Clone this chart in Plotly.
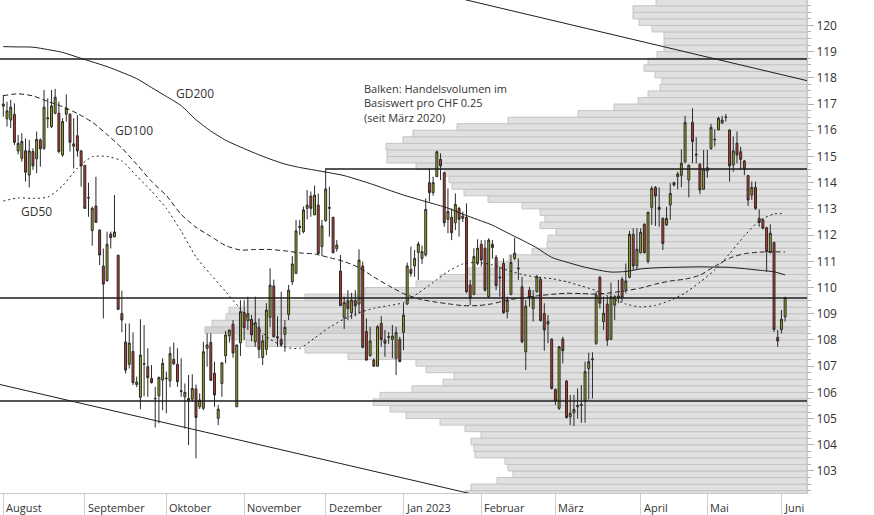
import pandas as pd
import plotly.graph_objects as go

# ---------------- data ----------------
holidays = ["2022-08-01", "2022-12-26", "2023-01-02", "2023-04-07",
            "2023-04-10", "2023-05-01", "2023-05-18", "2023-05-29"]
days = pd.bdate_range("2022-08-02", "2023-06-02")
days = days[~days.isin(pd.to_datetime(holidays))]

open_ = [116.92,116.44,116.39,116.61,115.21,114.93,115.22,114.29,115.19,114.91,
         115.63,115.31,116.44,116.14,116.65,116.65,115.06,116.61,116.61,115.39,
         115.79,115.21,114.66,113.43,112.17,113.11,112.19,110.82,110.26,112.04,
         111.93,111.23,109.01,107.92,107.07,107.56,106.30,105.81,107.10,106.98,
         106.53,105.77,105.87,106.47,106.52,106.44,107.26,107.07,106.06,105.83,
         105.67,105.74,106.13,105.45,105.39,107.68,107.90,106.73,105.01,106.34,
         107.40,108.16,108.60,105.45,107.89,109.05,108.73,108.78,107.93,108.47,
         107.33,107.64,108.86,110.06,108.12,108.02,108.21,108.97,110.22,110.54,
         112.29,112.13,113.02,113.49,112.77,113.15,111.56,112.55,113.02,112.68,
         111.48,110.63,108.85,109.50,109.04,109.50,109.37,110.82,108.32,107.40,
         107.23,107.00,108.63,108.00,108.10,108.02,107.30,108.02,108.29,109.37,
         110.69,110.82,111.34,111.11,111.24,114.00,113.62,114.23,114.89,114.38,
         112.60,112.68,112.47,113.02,112.64,112.68,110.10,109.74,110.92,111.65,
         111.50,109.65,111.65,111.15,110.40,110.92,109.08,109.74,111.11,110.74,
         110.03,107.55,109.90,109.20,109.84,110.31,109.01,108.60,108.03,106.11,
         105.39,108.03,106.43,105.07,105.22,105.45,105.50,105.67,106.91,107.28,
         107.87,110.39,108.70,109.37,108.02,109.33,109.68,110.31,109.93,110.39,
         112.03,110.83,111.33,112.41,110.99,113.06,113.82,113.06,112.64,112.39,
         113.15,113.91,114.23,114.28,114.80,114.10,116.30,115.05,114.70,113.75,
         114.45,115.31,115.63,116.01,116.27,116.49,116.01,114.68,115.50,115.18,
         114.83,114.27,113.53,113.82,112.64,112.58,112.28,111.34,111.72,108.10,
         108.40,108.88]
high = [117.35,117.09,117.16,117.03,115.82,115.89,115.69,115.63,115.31,115.95,
        115.69,117.54,117.22,117.54,117.58,117.09,116.46,117.37,116.65,116.46,
        116.58,115.25,114.68,114.00,113.09,114.23,112.22,111.49,112.13,112.13,
        113.53,111.25,109.88,108.63,108.63,108.29,106.60,108.79,108.57,107.68,
        107.04,106.21,106.60,107.30,106.79,107.74,107.90,107.68,107.30,106.34,
        106.66,106.69,106.30,105.96,107.93,108.25,108.25,107.17,105.52,107.13,
        108.34,108.38,108.76,107.81,109.52,109.52,109.65,108.95,109.65,108.82,
        108.19,109.40,110.73,110.30,108.90,109.84,108.76,110.10,111.20,112.58,
        112.58,113.09,113.72,113.66,113.89,113.59,112.58,114.55,113.85,112.70,
        111.81,111.24,109.65,109.90,109.80,109.90,111.46,110.99,108.82,108.50,
        107.30,108.57,108.91,108.38,108.30,108.57,108.50,108.12,109.40,110.95,
        111.56,111.43,111.75,111.60,113.40,114.55,114.23,115.22,115.12,114.42,
        113.78,113.02,113.59,113.08,112.90,113.21,110.29,111.50,111.84,111.81,
        111.81,111.88,111.81,111.24,110.80,111.11,109.65,111.24,111.91,111.11,
        110.41,109.52,110.03,109.90,110.48,110.41,109.40,108.95,108.06,106.15,
        107.77,108.12,106.47,105.90,105.90,106.15,106.28,107.17,107.51,107.53,
        109.84,110.44,109.65,109.65,110.18,109.71,110.29,110.41,110.92,112.16,
        112.26,112.26,112.26,112.45,112.89,113.87,113.87,113.82,112.67,113.08,
        113.98,114.04,114.42,115.27,116.55,114.67,116.84,115.73,114.74,115.25,
        115.25,116.24,116.04,116.52,116.55,116.62,116.04,115.76,115.95,115.37,
        114.87,114.30,114.04,114.04,112.98,112.64,112.32,112.41,111.75,108.38,
        109.14,109.65]
low = [116.52,116.14,116.08,115.44,115.08,114.80,114.04,113.82,114.49,114.36,
       114.61,115.25,116.08,116.08,116.61,115.12,114.99,116.33,115.19,114.55,
       114.99,113.85,113.00,112.70,111.60,112.46,110.86,108.82,110.22,111.49,
       111.93,109.14,108.29,106.72,106.91,106.28,106.20,105.36,105.85,105.83,
       106.34,104.66,104.82,105.32,105.20,106.19,107.04,106.21,105.83,104.62,
       103.99,105.64,103.48,105.36,105.32,106.98,106.43,105.45,104.75,105.83,
       107.11,107.90,107.32,105.45,107.39,108.00,108.38,107.95,107.74,107.30,
       107.04,107.42,108.50,108.10,107.74,107.74,107.55,108.76,110.10,110.54,
       112.00,112.07,112.60,112.70,112.77,111.28,111.20,112.51,111.94,111.30,
       111.37,109.30,108.42,108.76,108.80,108.90,109.00,107.68,107.21,107.36,
       106.98,106.98,107.74,107.36,107.85,107.30,106.66,107.17,107.61,109.33,
       110.41,110.41,110.29,110.90,111.18,113.28,113.50,114.23,114.10,112.32,
       112.07,111.81,112.19,111.94,112.50,109.78,109.33,109.70,110.85,110.80,
       109.84,109.59,111.10,109.90,109.65,109.00,108.82,109.70,111.05,110.29,
       107.87,106.85,109.27,108.70,109.80,108.70,107.59,107.87,106.11,105.52,
       105.33,107.11,105.00,104.75,104.71,105.00,104.84,104.84,105.73,105.77,
       107.81,109.20,108.38,107.77,108.00,108.76,109.40,109.46,109.78,110.35,
       110.67,110.67,111.30,111.30,110.92,112.39,112.35,112.32,111.43,112.35,
       112.58,113.85,113.75,113.82,114.74,113.44,114.74,114.74,113.56,113.72,
       114.19,115.25,115.38,116.01,116.27,116.33,114.04,114.42,114.74,114.48,
       114.29,113.11,113.34,112.96,112.32,112.22,110.60,111.30,108.31,107.74,
       108.25,108.70]
close = [117.00,116.74,116.88,115.54,115.50,115.57,114.40,115.21,114.64,115.65,
         115.29,116.88,116.47,116.93,117.26,115.19,116.33,116.84,115.54,115.48,
         115.21,114.64,113.02,113.42,113.02,112.49,111.24,110.13,111.65,111.90,
         112.12,109.17,108.76,106.85,107.88,106.37,106.39,107.42,107.08,106.56,
         106.37,105.76,106.57,107.11,106.54,107.48,107.09,106.41,106.04,106.00,
         105.77,106.15,105.04,105.71,107.55,107.81,106.46,105.90,105.36,107.13,
         108.19,108.38,107.50,107.81,109.08,108.47,109.00,108.19,108.66,107.64,
         107.96,109.14,110.09,108.12,108.08,107.83,108.48,109.90,110.90,112.16,
         112.33,112.96,113.14,113.02,113.53,111.30,112.35,113.76,113.05,111.33,
         111.62,109.31,109.43,109.20,109.52,109.30,111.05,107.72,107.23,107.96,
         107.00,108.50,108.02,107.87,108.12,108.15,108.28,107.17,108.95,110.82,
         110.54,111.11,111.66,111.37,112.98,113.62,114.00,115.18,114.64,112.47,
         112.90,112.09,113.17,112.60,112.73,109.84,109.59,111.18,111.50,111.05,
         109.90,111.81,111.53,110.07,110.37,109.04,109.52,110.96,111.31,110.72,
         107.93,109.29,109.62,109.65,110.41,108.74,108.38,108.70,106.15,105.67,
         107.74,107.59,105.04,105.20,105.35,105.50,105.53,106.79,107.17,107.25,
         109.71,109.40,109.02,107.99,109.65,109.65,109.60,109.61,110.25,112.03,
         110.82,111.46,112.11,111.33,112.87,113.78,113.49,112.98,111.68,112.64,
         113.59,114.00,114.33,114.74,116.30,114.67,115.57,115.08,113.72,114.52,
         114.57,116.11,115.65,116.46,116.39,116.50,114.64,115.21,115.06,114.89,
         114.51,113.34,113.82,113.02,112.48,112.26,111.37,112.07,108.40,107.96,
         108.79,109.61]

# moving averages, one value every 4th trading day (+ last day)
ma_step = 4
gd200 = [119.19,119.18,119.17,119.08,118.97,118.79,118.61,118.43,118.21,117.97,
         117.63,117.29,116.94,116.40,115.97,115.62,115.36,115.12,114.90,114.71,
         114.58,114.48,114.38,114.27,114.10,113.92,113.72,113.53,113.36,113.20,
         113.03,112.80,112.59,112.38,112.09,111.81,111.51,111.15,110.97,110.81,
         110.68,110.59,110.61,110.71,110.75,110.77,110.78,110.79,110.78,110.77,
         110.72,110.66,110.60,110.48]
gd100 = [117.32,117.39,117.31,117.10,116.90,116.64,116.31,115.84,115.32,114.70,
         114.05,113.51,112.79,112.30,111.95,111.60,111.43,111.45,111.45,111.40,
         111.32,111.28,111.14,110.99,110.76,110.40,110.07,109.77,109.57,109.46,
         109.38,109.31,109.31,109.38,109.52,109.61,109.68,109.74,109.78,109.77,
         109.75,109.80,109.88,109.98,110.13,110.25,110.32,110.47,110.81,111.12,
         111.29,111.35,111.36,111.36]
gd50 = [113.30,113.42,113.40,113.45,113.88,114.56,114.99,115.00,114.83,114.25,
        113.68,113.02,112.15,111.17,110.49,109.85,109.18,108.53,108.03,107.73,
        107.68,108.07,108.48,108.80,109.04,109.21,109.31,109.42,109.79,110.19,
        110.61,110.90,110.96,110.86,110.66,110.50,110.39,110.34,110.22,110.06,
        109.88,109.61,109.37,109.26,109.32,109.51,109.79,110.20,110.67,111.29,
        111.97,112.54,112.81,112.81]

# volume profile (relative volume per CHF 0.25 bin, from 102.00 upwards)
bin_size = 0.25
bin_start = 102.0
volume = [342,336,310,294,299,302,332,333,336,326,342,367,401,417,434,427,395,364,353,381,
          391,459,502,561,577,602,595,581,578,560,502,442,391,367,339,309,298,275,260,259,
          251,267,262,267,285,319,343,355,358,362,391,420,420,421,404,394,350,299,229,193,
          169,159,147,145,152,163,159,150,143,143,143,155,168,174,174,151]
highlight_bin = 108.25

# horizontal levels and trend channel
levels_full = [118.72, 109.60, 105.67]
level_dec = ("2022-12-01", 114.52)
channel_low = [("2022-08-02", 106.27), ("2023-06-02", 99.35)]
channel_high = [("2023-01-26", 120.97), ("2023-06-02", 118.09)]

month_labels = ["August", "September", "Oktober", "November", "Dezember", "Jan 2023",
                "Februar", "März", "April", "Mai", "Juni"]
y_ticks = list(range(103, 121))

# ---------------- figure ----------------
pos = {d.strftime("%Y-%m-%d"): i for i, d in enumerate(days)}
xi = list(range(len(days)))
ma_x = list(range(0, len(days), ma_step)) + [len(days) - 1]

month_pos = []
seen = set()
for i, d in enumerate(days):
    key = (d.year, d.month)
    if key not in seen:
        seen.add(key)
        month_pos.append(i)

W, H = 874, 515
PL, PR, PT, PB = 0, 67, 0, 22
plot_w = W - PL - PR
plot_h = H - PT - PB
x_range = [-0.89, 216.9]
y_range = [102.16, 120.97]

FONT = "Open Sans"
TXT = "#333333"
LINE = "#1e1e1e"

fig = go.Figure()

bin_centers = [bin_start + bin_size * (k + 0.5) for k in range(len(volume))]
bar_colors = ["#d3d3d3" if abs(c - (highlight_bin + bin_size / 2)) < 1e-6 else "#e0e0e0"
              for c in bin_centers]
fig.add_trace(go.Bar(
    x=volume, y=bin_centers, orientation="h", width=bin_size,
    marker=dict(color=bar_colors, line=dict(color="#c4c4c4", width=1)),
    xaxis="x", yaxis="y", hoverinfo="skip", showlegend=False))

fig.add_trace(go.Candlestick(
    x=xi, open=open_, high=high, low=low, close=close,
    xaxis="x2", yaxis="y", whiskerwidth=0,
    increasing=dict(fillcolor="#9aab1c", line=dict(color="#2a2a2a", width=1)),
    decreasing=dict(fillcolor="#c0392b", line=dict(color="#2a2a2a", width=1)),
    showlegend=False))

for vals, dash in [(gd200, "solid"), (gd100, "5px,3px"), (gd50, "2px,3px")]:
    fig.add_trace(go.Scatter(
        x=ma_x, y=vals, mode="lines", xaxis="x2", yaxis="y",
        line=dict(color=LINE, width=1, dash=dash, shape="spline", smoothing=0.6),
        hoverinfo="skip", showlegend=False))

shapes = []
for lv in levels_full:
    shapes.append(dict(type="line", xref="paper", yref="y", x0=0, x1=1, y0=lv, y1=lv,
                       line=dict(color=LINE, width=1.5), layer="above"))
shapes.append(dict(type="line", xref="x2", yref="y", x0=pos[level_dec[0]], x1=x_range[1],
                   y0=level_dec[1], y1=level_dec[1], line=dict(color=LINE, width=1.5),
                   layer="above"))
for (d0, p0), (d1, p1) in [channel_low, channel_high]:
    i0, i1 = pos[d0], pos[d1]
    slope = (p1 - p0) / (i1 - i0)
    xa, xb = x_range[0] - 5, x_range[1] + 5
    shapes.append(dict(type="line", xref="x2", yref="y",
                       x0=xa, y0=p0 + slope * (xa - i0), x1=xb, y1=p0 + slope * (xb - i0),
                       line=dict(color=LINE, width=1), layer="above"))

ann = []
def px_ann(text, x, y, xanchor="center", size=12, yanchor="middle"):
    ann.append(dict(text=text, xref="paper", yref="paper", x=x / plot_w,
                    y=1 - y / plot_h, xanchor=xanchor, yanchor=yanchor, align="left",
                    showarrow=False, font=dict(family=FONT, size=size, color=TXT)))

px_ann("GD200", 195, 94)
px_ann("GD100", 134, 130)
px_ann("GD50", 36, 211)
px_ann("Balken: Handelsvolumen im<br>Basiswert pro CHF 0.25<br>(seit März 2020)",
       362, 79, "left", 11, "top")

for lab, p in zip(month_labels, month_pos):
    ann.append(dict(text=lab, xref="x2", yref="paper", x=p, y=0, xanchor="left",
                    yanchor="top", xshift=1, yshift=-5, showarrow=False,
                    font=dict(family=FONT, size=11, color=TXT)))

fig.update_layout(
    width=W, height=H, margin=dict(l=PL, r=PR, t=PT, b=PB),
    paper_bgcolor="white", plot_bgcolor="white",
    bargap=0, barmode="overlay", boxgap=0.25, showlegend=False,
    shapes=shapes, annotations=ann,
    font=dict(family=FONT, size=12, color=TXT),
    xaxis=dict(range=[plot_w, 0], visible=False, fixedrange=True),
    xaxis2=dict(overlaying="x", anchor="y", side="bottom", range=x_range,
                tickmode="array", tickvals=month_pos, showticklabels=False,
                ticks="outside", ticklen=22, tickcolor="#cfcfcf", tickwidth=1,
                showline=True, linecolor="#c8c8c8", linewidth=1,
                showgrid=False, zeroline=False, rangeslider=dict(visible=False)),
    yaxis=dict(side="right", range=y_range, tickmode="array", tickvals=y_ticks,
               ticks="outside", ticklen=6, tickcolor="#b0b0b0",
               minor=dict(ticks="outside", ticklen=3, tickcolor="#b0b0b0",
                          tickmode="linear", tick0=0, dtick=0.25),
               showline=True, linecolor="#c8c8c8", showgrid=False, zeroline=False,
               tickfont=dict(family=FONT, size=12, color=TXT), automargin=False),
)

fig.write_html("out.html", config={"displayModeBar": False, "staticPlot": True},
               post_script="document.body.style.margin='0';")
